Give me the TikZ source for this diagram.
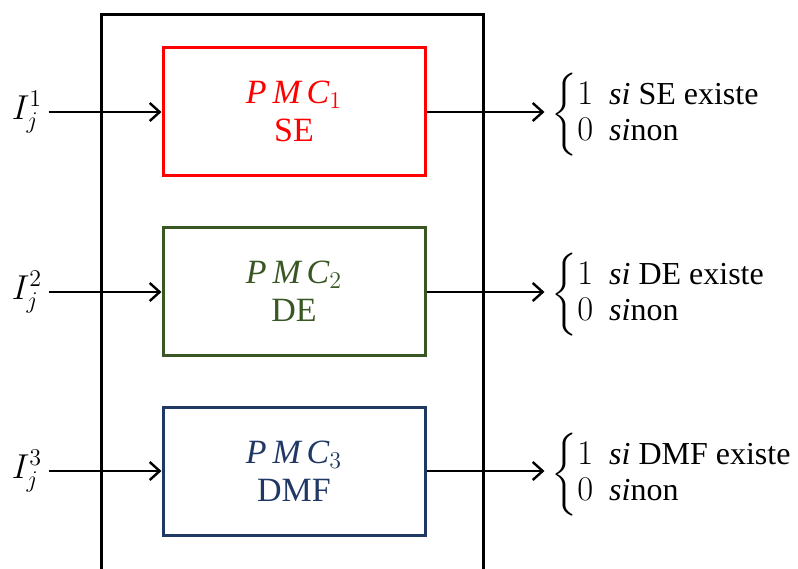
\documentclass[tikz,border=0pt]{standalone}
\usepackage{amsmath}
\usepackage{fontspec}
\setmainfont{Liberation Serif}
\usetikzlibrary{arrows.meta}

\definecolor{pmcred}{HTML}{FF0000}
\definecolor{pmcgreen}{HTML}{385723}
\definecolor{pmcblue}{HTML}{1F3864}

\begin{document}
\begin{tikzpicture}[
    x=0.5pt, y=-0.5pt,
    >={Straight Barb[length=5pt,width=9pt]},
    every node/.style={font=\fontsize{17}{19}\selectfont},
    pmc/.style={draw, rectangle, line width=1.5pt, align=center,
        minimum width=131pt, minimum height=64pt, inner sep=0pt},
    inlabel/.style={font=\fontsize{17}{20}\selectfont, inner sep=0pt},
    outlabel/.style={anchor=west, inner sep=0pt, font=\fontsize{16}{18}\selectfont},
    link/.style={->, line width=1.2pt}
]
\useasboundingbox (0,0) rectangle (798,568);
% the frame round the three PMC
\draw[line width=1.5pt] (101,580) |- (483,14) -- (483,580);

\node[pmc, draw=pmcred, text=pmcred] (pmc1) at (294,111) {$\mathit{P\,M\,C}_1$\\SE};
\node[pmc, draw=pmcgreen, text=pmcgreen] (pmc2) at (294,291) {$\mathit{P\,M\,C}_2$\\DE};
\node[pmc, draw=pmcblue, text=pmcblue] (pmc3) at (294,471) {$\mathit{P\,M\,C}_3$\\DMF};

\node[inlabel] (in1) at (27,112) {$I_j^1$};
\node[inlabel] (in2) at (27,292) {$I_j^2$};
\node[inlabel] (in3) at (27,471) {$I_j^3$};

\node[outlabel] (out1) at (551,115)
    {$\left\{\begin{array}{@{}l@{}}1\ \ \mathit{si}\ \text{SE existe}\\0\ \ \mathit{si}\text{non}\end{array}\right.$};
\node[outlabel] (out2) at (551,295)
    {$\left\{\begin{array}{@{}l@{}}1\ \ \mathit{si}\ \text{DE existe}\\0\ \ \mathit{si}\text{non}\end{array}\right.$};
\node[outlabel] (out3) at (551,475)
    {$\left\{\begin{array}{@{}l@{}}1\ \ \mathit{si}\ \text{DMF existe}\\0\ \ \mathit{si}\text{non}\end{array}\right.$};

\foreach \i in {1,2,3} {
    \draw[link] (in\i.east) ++(6,0) -- (pmc\i.west |- in\i);
    \draw[link] (pmc\i.east |- in\i) -- ++(118,0);
}
\end{tikzpicture}
\end{document}
